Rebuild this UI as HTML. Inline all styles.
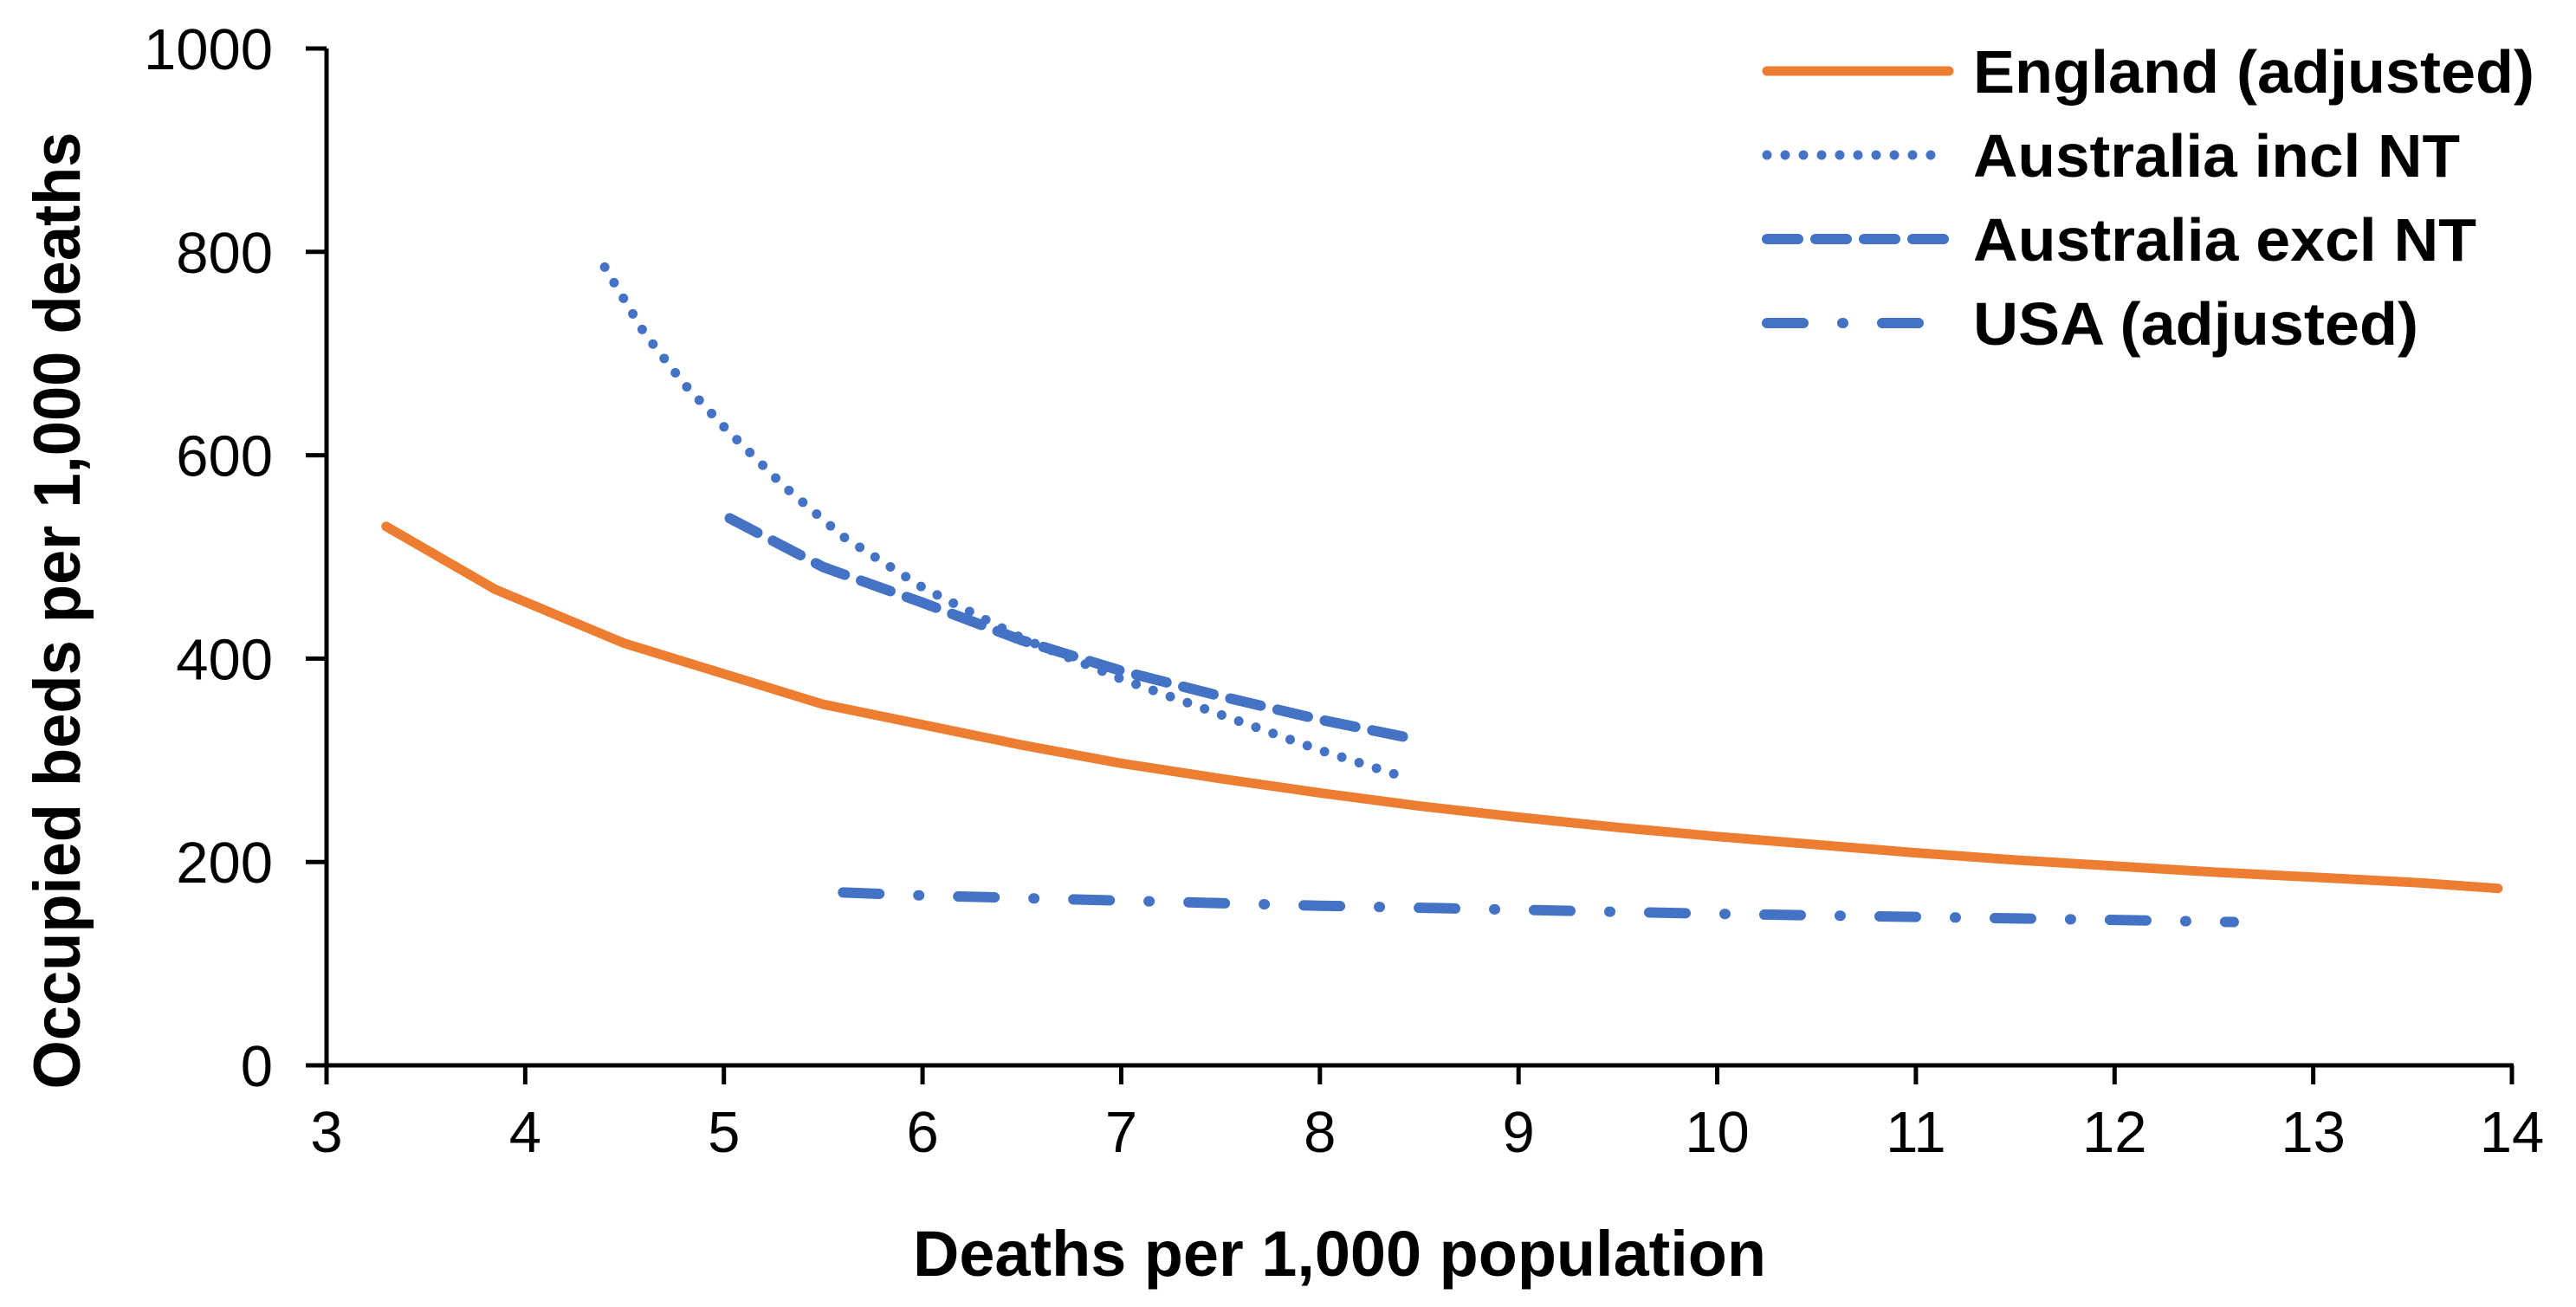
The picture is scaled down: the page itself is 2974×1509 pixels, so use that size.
<!DOCTYPE html>
<html><head><meta charset="utf-8"><style>
html,body{margin:0;padding:0;background:#fff;}
svg{display:block;font-family:"Liberation Sans",sans-serif;}
</style></head><body>
<svg id="chart" width="2974" height="1509" viewBox="0 0 2974 1509"></svg>
<script>
const xTicks=[3,4,5,6,7,8,9,10,11,12,13,14];
const yTicks=[0,200,400,600,800,1000];
const englandX=[3.3,3.85,4.5,5,5.5,6,6.5,7,7.5,8,8.5,9,9.5,10,10.5,11,11.5,12,12.5,13,13.5,13.93];
const englandY=[530,468,415,385,355,335,315,297,282,268,255,244,234,225,217,209,202,196,190,185,180,174];
const ausInclX=[4.4,4.6,4.8,5,5.3,5.6,6,6.5,7,7.5,8,8.4];
const ausInclY=[785,720,670,628,570,520,470,420,380,345,310,285];
const ausExclX=[5.03,5.5,6,6.5,7,7.5,8,8.5];
const ausExclY=[538,490,455,418,388,363,340,320];
const usaX=[5.6,6,7,8,9,10,11,12,12.6];
const usaY=[170,167,162,157,153,149,146,143,141];
const legendLabels=["England (adjusted)","Australia incl NT","Australia excl NT","USA (adjusted)"];
const legendWidths=[648,562,581,514];

const NS="http://www.w3.org/2000/svg";
const svg=document.getElementById('chart');
const X0=377,X1=2900,Y0=1230,Y1=56;
const sx=v=>X0+(v-3)/(14-3)*(X1-X0);
const sy=v=>Y0-(v/1000)*(Y0-Y1);
function mk(t,a){const e=document.createElementNS(NS,t);for(const k in a)e.setAttribute(k,a[k]);svg.appendChild(e);return e;}

const ya=mk('line',{x1:X0,y1:Y1,x2:X0,y2:Y0+12,stroke:'#000','stroke-width':5});


const xa=mk('line',{x1:X0-24,y1:Y0,x2:X1+2,y2:Y0,stroke:'#000','stroke-width':5});


yTicks.forEach(v=>{
  const t=mk('line',{x1:X0-24,y1:sy(v),x2:X0,y2:sy(v),stroke:'#000','stroke-width':5});
  
  
  const l=mk('text',{x:315,y:sy(v)+24,'font-size':67,'text-anchor':'end',fill:'#000'});
  l.textContent=v;
  
  
});
xTicks.forEach(v=>{
  const t=mk('line',{x1:sx(v),y1:Y0,x2:sx(v),y2:Y0+22,stroke:'#000','stroke-width':5});
  
  
  const l=mk('text',{x:sx(v),y:Y0+100,'font-size':67,'text-anchor':'middle',fill:'#000'});
  l.textContent=v;
  
  
});
const xt=mk('text',{x:1054,y:1473,'font-size':74,'font-weight':'bold',fill:'#000',textLength:985,lengthAdjust:'spacingAndGlyphs'});
xt.textContent='Deaths per 1,000 population';


const yt=mk('text',{x:0,y:0,'font-size':76,'font-weight':'bold','text-anchor':'middle',fill:'#000',textLength:1105,lengthAdjust:'spacingAndGlyphs',transform:'translate(92,705) rotate(-90)'});
yt.textContent='Occupied beds per 1,000 deaths';



const styles=[
 {c:'#ED7D31',d:'',w:11},
 {c:'#4472C4',d:'0 21',w:11},
 {c:'#4472C4',d:'36 20',w:12},
 {c:'#4472C4',d:'42 45 1 45',w:12}
];
const series=[[englandX,englandY],[ausInclX,ausInclY],[ausExclX,ausExclY],[usaX,usaY]];
const names=['england-line','australia-incl-nt-line','australia-excl-nt-line','usa-line'];
series.forEach((s,i)=>{
  const d=s[0].map((x,j)=>(j?'L':'M')+sx(x).toFixed(1)+' '+sy(s[1][j]).toFixed(1)).join(' ');
  const p=mk('path',{d:d,fill:'none',stroke:styles[i].c,'stroke-width':styles[i].w,'stroke-linecap':'round','stroke-linejoin':'round','stroke-dasharray':styles[i].d});
  
  
});
const legY=[82,179,276,373];
legendLabels.forEach((lab,i)=>{
  const l=mk('line',{x1:2040,y1:legY[i],x2:2250,y2:legY[i],stroke:styles[i].c,'stroke-width':styles[i].w,'stroke-linecap':'round','stroke-dasharray':styles[i].d});
  
  
  const t=mk('text',{x:2278,y:legY[i]+25,'font-size':70,'font-weight':'bold',fill:'#000',textLength:legendWidths[i],lengthAdjust:'spacingAndGlyphs'});
  t.textContent=lab;
  
  
});
</script>
</body></html>
